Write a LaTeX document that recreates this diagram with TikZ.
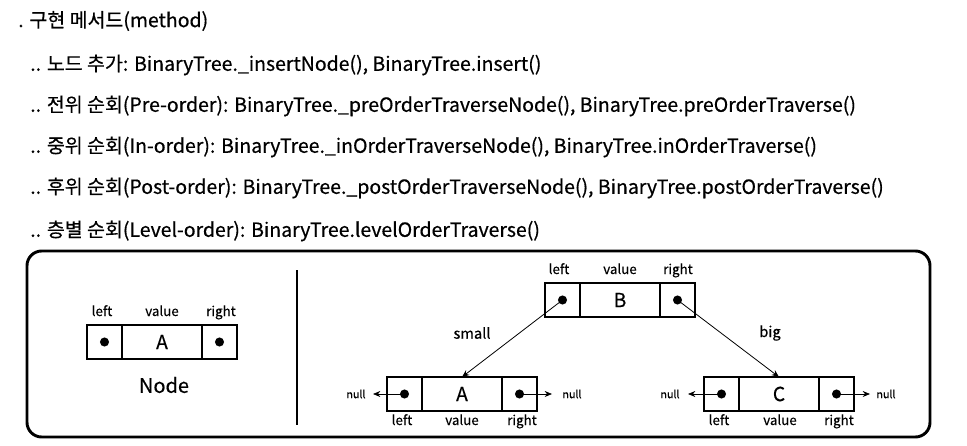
\documentclass[tikz,border=0pt]{standalone}
\usepackage{fontspec}
\setmainfont{Noto Sans CJK KR}[FakeBold=0.4]
\newfontfamily\medfont{Noto Sans CJK KR}[FakeBold=0.5]
\usetikzlibrary{arrows.meta,shadows}
\begin{document}
\begin{tikzpicture}[x=0.75pt,y=-0.75pt,
  txt/.style={anchor=west,inner sep=0,font=\medfont\fontsize{14.6}{17}\selectfont},
  cell/.style={draw,line width=0.8pt,minimum height=25.5pt,inner sep=0,outer sep=0},
  side/.style={cell,minimum width=26.25pt},
  mid/.style={cell,minimum width=60pt,font=\fontsize{14.5}{16}\selectfont},
  dot/.style={circle,fill=black,minimum size=6.8pt,inner sep=0},
  fld/.style={anchor=base,inner sep=0,font=\fontsize{10}{12}\selectfont},
  nul/.style={inner sep=0,font=\fontsize{8}{10}\selectfont},
  lnk/.style={line width=0.6pt,-{Stealth[length=5.5pt,width=4.5pt]}},
  edge lbl/.style={inner sep=0,font=\fontsize{11}{13}\selectfont}]
\useasboundingbox (0,0) rectangle (967,446);
\fill[white] (0,0) rectangle (967,446);
% text lines
\node[txt] (t1) at (18,21) {. 구현 메서드(method)};
\node[txt] (t2) at (30,65) {.. 노드 추가: BinaryTree.\_insertNode(), BinaryTree.insert()};
\node[txt] (t3) at (30,106) {.. 전위 순회(Pre-order): BinaryTree.\_preOrderTraverseNode(), BinaryTree.preOrderTraverse()};
\node[txt] (t4) at (30,147) {.. 중위 순회(In-order): BinaryTree.\_inOrderTraverseNode(), BinaryTree.inOrderTraverse()};
\node[txt] (t5) at (30,188) {.. 후위 순회(Post-order): BinaryTree.\_postOrderTraverseNode(), BinaryTree.postOrderTraverse()};
\node[txt] (t6) at (30,231) {.. 층별 순회(Level-order): BinaryTree.levelOrderTraverse()};
% frame
\draw[line width=2.2pt,fill=white,rounded corners=11pt,drop shadow={shadow xshift=0.8pt,shadow yshift=-0.8pt,opacity=0.25}] (27,251) rectangle (930,437);
\draw[line width=1.5pt] (297,270) -- (297,425);
% single node
\node[side] (nl) at (104.5,342) {};
\node[mid] (nm) at (162,342) {A};
\node[side] (nr) at (219.5,342) {};
\node[dot] (nld) at (nl) {};
\node[dot] (nrd) at (nr) {};
\node[fld] at (102,316) {left};
\node[fld] at (162,316) {value};
\node[fld] at (221,316) {right};
\node[inner sep=0,font=\fontsize{15}{18}\selectfont] (nodelbl) at (164,385) {Node};
% B
\node[side] (bl) at (562.5,300) {};
\node[mid] (bm) at (620,300) {B};
\node[side] (br) at (677.5,300) {};
\node[dot] (bld) at (bl) {};
\node[dot] (brd) at (br) {};
\node[fld] at (559,274) {left};
\node[fld] at (620,274) {value};
\node[fld] at (678,274) {right};
% A
\node[side] (al) at (404.5,394) {};
\node[mid] (am) at (462,394) {A};
\node[side] (ar) at (519.5,394) {};
\node[dot] (ald) at (al) {};
\node[dot] (ard) at (ar) {};
\node[fld] at (402,425) {left};
\node[fld] at (462,425) {value};
\node[fld] at (522,425) {right};
% C
\node[side] (cl) at (721.5,394) {};
\node[mid] (cm) at (779,394) {C};
\node[side] (cr) at (836.5,394) {};
\node[dot] (cld) at (cl) {};
\node[dot] (crd) at (cr) {};
\node[fld] at (719,425) {left};
\node[fld] at (780,425) {value};
\node[fld] at (839,425) {right};
% links
\draw[lnk] (bld.center) -- (am.north);
\draw[lnk] (brd.center) -- (cm.north);
\node[edge lbl] (small) at (472,333) {small};
\node[edge lbl] (big) at (770,333) {big};
% nulls
\coordinate (an1) at (373,394);
\coordinate (an2) at (552,394);
\coordinate (cn1) at (688,394);
\coordinate (cn2) at (870,394);
\draw[lnk] (ald.center) -- (an1);
\draw[lnk] (ard.center) -- (an2);
\draw[lnk] (cld.center) -- (cn1);
\draw[lnk] (crd.center) -- (cn2);
\node[nul] (null1) at (356,394) {null};
\node[nul] (null2) at (572,394) {null};
\node[nul] (null3) at (670,394) {null};
\node[nul] (null4) at (886,394) {null};
\end{tikzpicture}
\end{document}
